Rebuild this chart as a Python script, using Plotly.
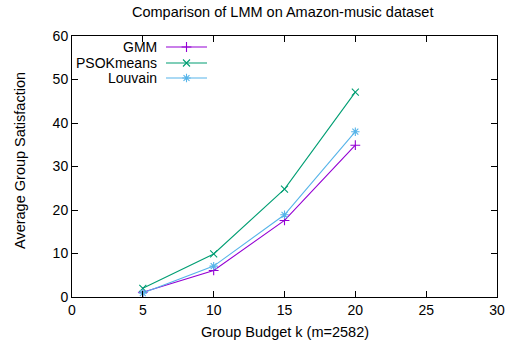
import plotly.graph_objects as go

budgets = [5, 10, 15, 20]
gmm = [1.1, 6.1, 17.6, 34.9]
psok = [2.0, 9.9, 24.8, 47.1]
louvain = [0.9, 7.1, 18.9, 38.0]

names = ["GMM", "PSOKmeans", "Louvain"]
colors = ["#9400d3", "#009e73", "#56b4e9"]
symbols = ["cross-thin-open", "x-thin-open", "asterisk-open"]
series = [gmm, psok, louvain]

W, H = 509, 345
ml, mr, mt, mb = 72, 12, 36, 48
FONT = "Liberation Sans, Arial, sans-serif"

fig = go.Figure()
for n, c, s, ys in zip(names, colors, symbols, series):
    fig.add_trace(go.Scatter(x=budgets, y=ys, mode="lines+markers", name=n,
                             line=dict(color=c, width=1.1),
                             marker=dict(symbol=s, size=7, color=c, line=dict(color=c, width=1.1)),
                             showlegend=False))

pw = W - ml - mr
ph = H - mt - mb
def px(xp):
    return (xp - ml) / pw
def py(yp):
    return 1 - (yp - mt) / ph

rows = [47, 63, 78]
for n, c, s, yr in zip(names, colors, symbols, rows):
    fig.add_annotation(x=px(159), y=py(yr), xref="paper", yref="paper", text=n,
                       showarrow=False, xanchor="right", yanchor="middle",
                       font=dict(size=14, color="black", family=FONT))
    fig.add_trace(go.Scatter(x=[px(166), px(207)], y=[py(yr), py(yr)], mode="lines",
                             xaxis="x2", yaxis="y2", line=dict(color=c, width=1.1),
                             showlegend=False, hoverinfo="skip"))
    fig.add_trace(go.Scatter(x=[px(186.5)], y=[py(yr)], mode="markers",
                             xaxis="x2", yaxis="y2",
                             marker=dict(symbol=s, size=7, color=c, line=dict(color=c, width=1.1)),
                             showlegend=False, hoverinfo="skip"))

# axis titles and chart title
fig.add_annotation(x=0.5, y=py(332), xref="paper", yref="paper", text="Group Budget k (m=2582)",
                   showarrow=False, xanchor="center", yanchor="middle",
                   font=dict(size=14.5, color="black", family=FONT))
fig.add_annotation(x=px(20), y=py(161), xref="paper", yref="paper", text="Average Group Satisfaction",
                   showarrow=False, xanchor="center", yanchor="middle", textangle=-90,
                   font=dict(size=14.5, color="black", family=FONT))
fig.add_annotation(x=px(282), y=py(12), xref="paper", yref="paper",
                   text="Comparison of LMM on Amazon-music dataset",
                   showarrow=False, xanchor="center", yanchor="middle",
                   font=dict(size=14.5, color="black", family=FONT))

axis_common = dict(showgrid=False, zeroline=False, showline=True, linecolor="black",
                   linewidth=1, mirror="ticks", ticks="inside", ticklen=6, automargin=False,
                   tickcolor="black", tickfont=dict(size=14, color="black", family=FONT))

fig.update_layout(
    width=W, height=H,
    margin=dict(l=ml, r=mr, t=mt, b=mb),
    paper_bgcolor="white", plot_bgcolor="white",
    font=dict(family=FONT, color="black"),
    xaxis=dict(range=[0, 30], dtick=5, **axis_common),
    yaxis=dict(range=[0, 60], dtick=10, **axis_common),
    xaxis2=dict(range=[0, 1], overlaying="x", visible=False),
    yaxis2=dict(range=[0, 1], overlaying="y", visible=False),
)

fig.write_html("out.html")
